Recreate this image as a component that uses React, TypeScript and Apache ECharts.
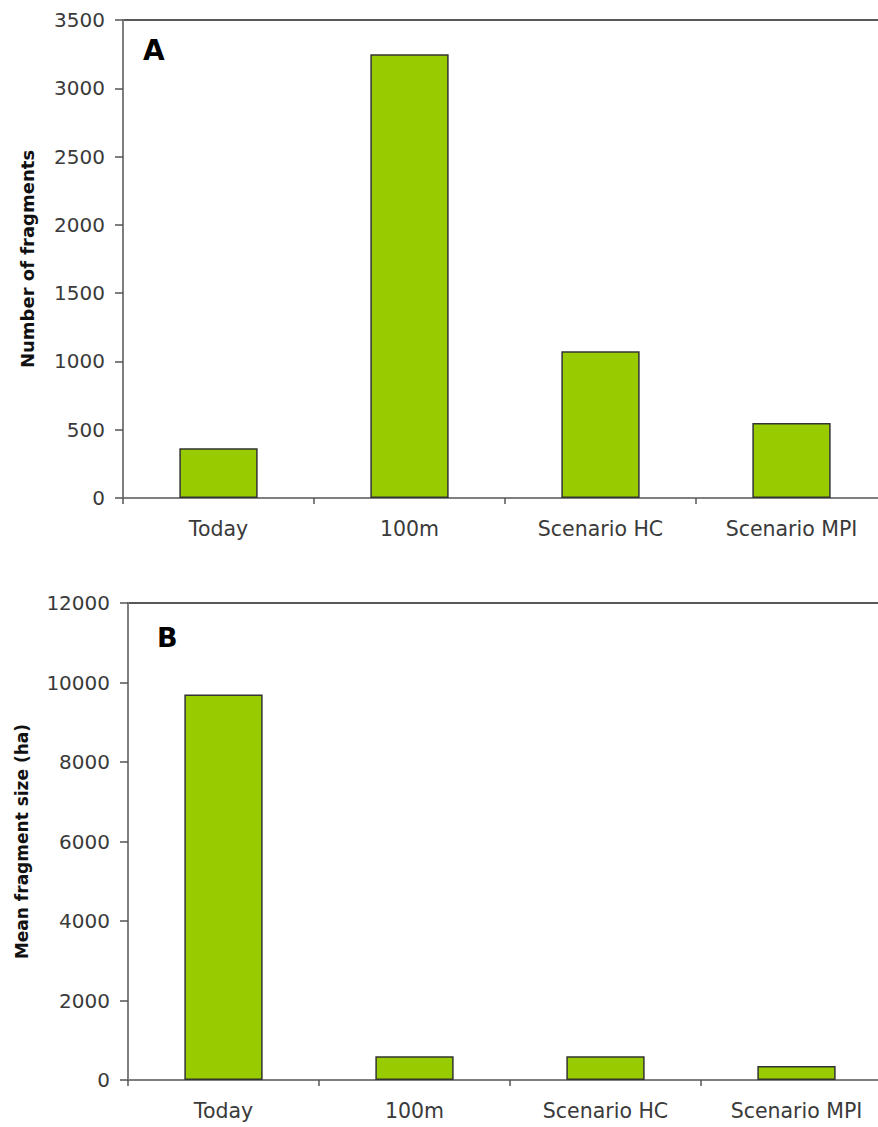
import React, { useEffect, useRef } from "react";
import * as echarts from "echarts";

const categories = ["Today", "100m", "Scenario HC", "Scenario MPI"];
const fragmentsCount = [365, 3250, 1075, 550];
const meanFragmentSize = [9700, 600, 600, 350];
const panelLabels = ["A", "B"];
const axisNames = ["Number of fragments", "Mean fragment size (ha)"];

const FONT = "DejaVu Sans";
const BAR_COLOR = "#99cc00";

export default function App() {
  const ref = useRef<HTMLDivElement>(null);
  useEffect(() => {
    document.body.style.margin = "0";
    const chart = echarts.init(ref.current!, null, { renderer: "svg" });
    const xAxisBase = (gridIndex: number) => ({
      type: "category",
      gridIndex,
      data: categories,
      axisLine: { lineStyle: { color: "#7f7f7f", width: 2 } },
      axisTick: { show: true, length: 6, lineStyle: { color: "#555", width: 1.5 } },
      axisLabel: { color: "#3a3a3a", fontFamily: FONT, fontSize: 20.5, margin: 20 },
    });
    const yAxisBase = (gridIndex: number, max: number, interval: number, name: string, gap: number, nameSize: number) => ({
      type: "value",
      gridIndex,
      min: 0,
      max,
      interval,
      name,
      nameLocation: "middle",
      nameGap: gap,
      nameTextStyle: { fontFamily: FONT, fontWeight: "bold", fontSize: nameSize, color: "#111" },
      axisLine: { show: true, lineStyle: { color: "#7f7f7f", width: 2 } },
      axisTick: { show: true, length: 8, lineStyle: { color: "#555", width: 1.5 } },
      axisLabel: { color: "#3a3a3a", fontFamily: FONT, fontSize: 20, margin: 18, formatter: (v: number) => String(v) },
      splitLine: { show: false },
    });
    const barSeries = (idx: number, data: number[]) => ({
      type: "bar",
      xAxisIndex: idx,
      yAxisIndex: idx,
      data,
      barWidth: "41%",
      itemStyle: { color: BAR_COLOR, borderColor: "#333", borderWidth: 1.5 },
    });
    chart.setOption({
      animation: false,
      backgroundColor: "#fff",
      grid: [
        { left: 123, top: 20, width: 764, height: 478, show: true, borderColor: "#222", borderWidth: 1.5 },
        { left: 128, top: 603, width: 764, height: 477, show: true, borderColor: "#222", borderWidth: 1.5 },
      ],
      xAxis: [xAxisBase(0), xAxisBase(1)],
      yAxis: [
        yAxisBase(0, 3500, 500, axisNames[0], 87, 18),
        yAxisBase(1, 12000, 2000, axisNames[1], 98, 17),
      ],
      series: [barSeries(0, fragmentsCount), barSeries(1, meanFragmentSize)],
      graphic: [
        { type: "text", left: 143, top: 36, style: { text: panelLabels[0], fontFamily: FONT, fontWeight: "bold", fontSize: 28, fill: "#000" } },
        { type: "text", left: 157, top: 624, style: { text: panelLabels[1], fontFamily: FONT, fontWeight: "bold", fontSize: 27, fill: "#000" } },
      ],
    });
    return () => chart.dispose();
  }, []);
  return (
    <div style={{ width: 878, height: 1127, overflow: "hidden" }}>
      <div ref={ref} style={{ width: 900, height: 1127 }} />
    </div>
  );
}
